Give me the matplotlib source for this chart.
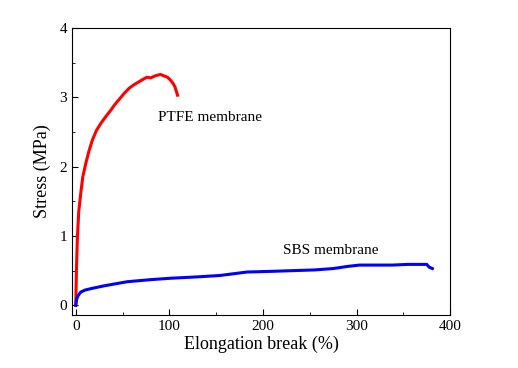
import matplotlib
matplotlib.use("Agg")
import matplotlib.pyplot as plt
from matplotlib.ticker import MultipleLocator

# PTFE membrane stress-strain curve
ptfe_strain = [0, 0.8, 1.8, 3.2, 5.3, 7.5, 10.6, 14, 17.7, 22, 26.6, 32, 37.2, 42, 47, 52,
               57, 62, 67, 72, 76, 80, 85, 90.4, 94, 98, 101, 104, 106, 108.8]
ptfe_stress = [0, 0.55, 0.99, 1.35, 1.61, 1.85, 2.04, 2.22, 2.38, 2.52, 2.62, 2.72, 2.81, 2.9, 2.98, 3.06,
               3.13, 3.18, 3.22, 3.26, 3.29, 3.28, 3.31, 3.33, 3.31, 3.29, 3.25, 3.2, 3.15, 3.03]

# SBS membrane stress-strain curve
sbs_strain = [0, 1, 2.5, 5.3, 10, 16, 30, 55, 80, 101, 130, 154, 183, 210, 232, 255, 275,
              290, 303, 320, 338, 355, 372, 375, 377.6, 381]
sbs_stress = [0, 0.09, 0.14, 0.19, 0.22, 0.24, 0.28, 0.34, 0.37, 0.39, 0.41, 0.43, 0.48, 0.49, 0.5,
              0.51, 0.53, 0.56, 0.58, 0.58, 0.58, 0.59, 0.59, 0.59, 0.55, 0.53]

plt.rcParams['font.family'] = ['Liberation Serif', 'DejaVu Serif']

fig = plt.figure(figsize=(5.18, 3.68), dpi=100)
ax = fig.add_axes([0.139, 0.144, 0.730, 0.780])

ax.plot(ptfe_strain, ptfe_stress, color='#ff0000', lw=2.2)
ax.plot(sbs_strain, sbs_stress, color='#0000ff', lw=2.2)

ax.text(88, 2.71, 'PTFE membrane', fontsize=11, va='center')
ax.text(221, 0.79, 'SBS membrane', fontsize=11, va='center')

ax.set_xlim(-4, 400)
ax.set_ylim(-0.14, 4)
ax.xaxis.set_major_locator(MultipleLocator(100))
ax.xaxis.set_minor_locator(MultipleLocator(50))
ax.yaxis.set_major_locator(MultipleLocator(1))
ax.yaxis.set_minor_locator(MultipleLocator(0.5))
ax.tick_params(which='both', direction='in', labelsize=11)
ax.tick_params(which='major', length=4)
ax.tick_params(which='minor', length=2.5)

ax.set_xlabel('Elongation break (%)', fontsize=13, labelpad=2)
ax.set_ylabel('Stress (MPa)', fontsize=13, labelpad=6)

fig.savefig('out.png', dpi=100)
